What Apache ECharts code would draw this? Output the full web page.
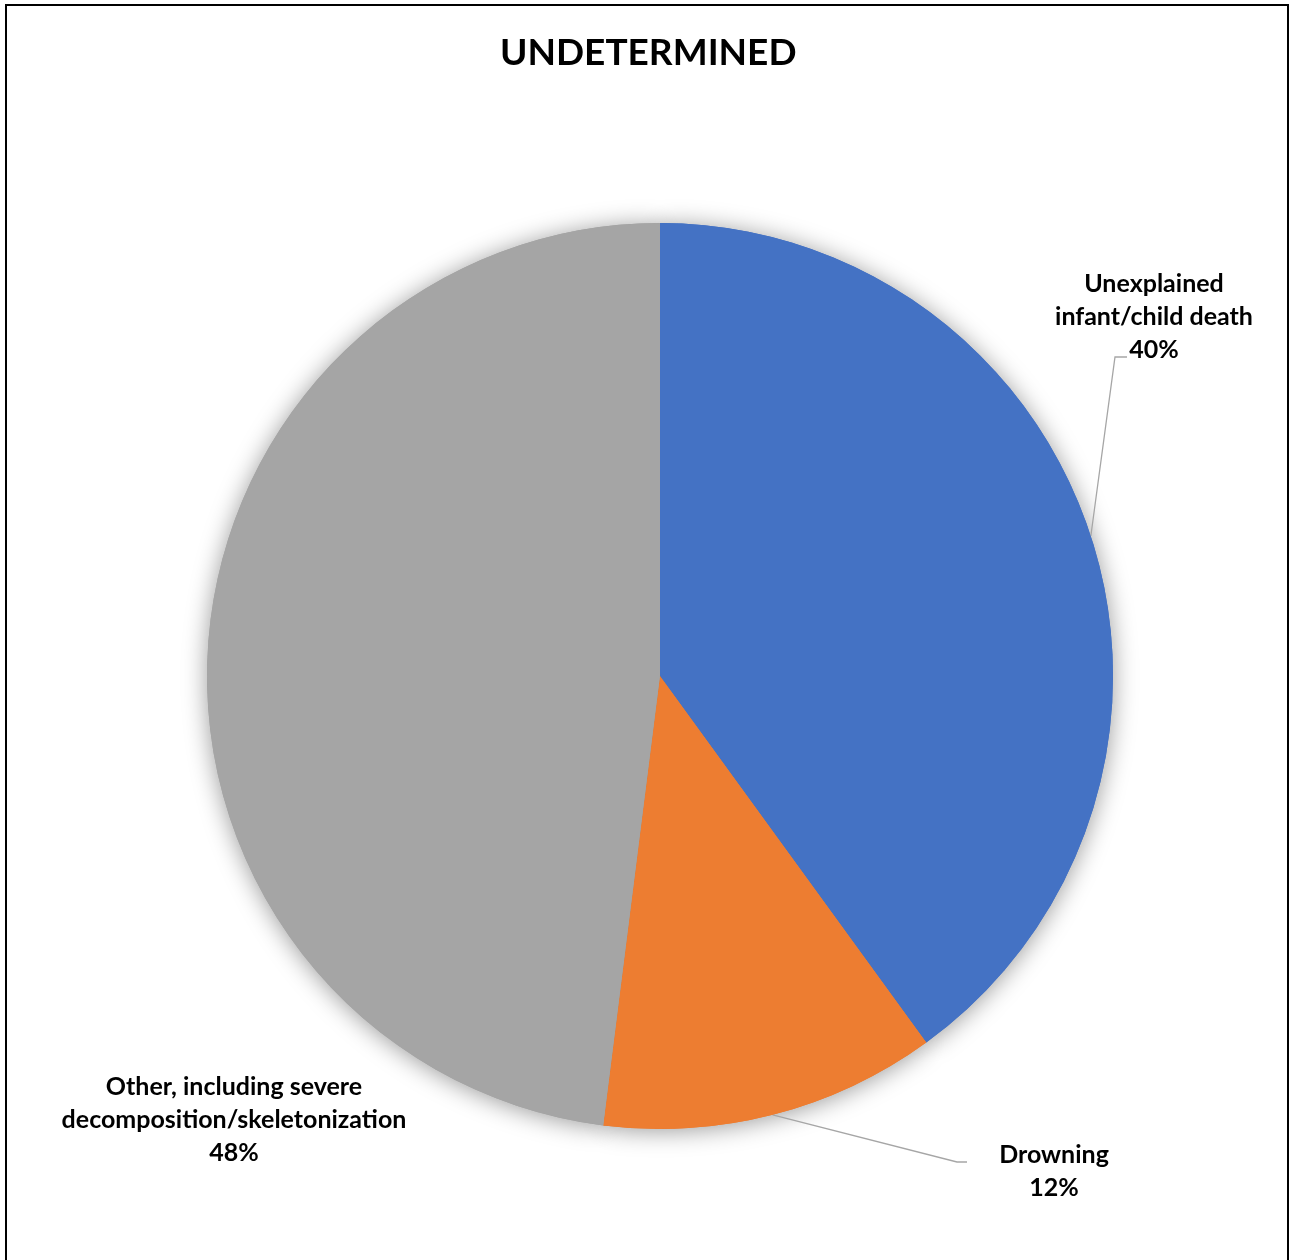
<!DOCTYPE html>
<html><head><meta charset="utf-8">
<script src="https://cdn.jsdelivr.net/npm/echarts@6/dist/echarts.min.js"></script>
<style>
html,body{margin:0;padding:0;background:#fff;overflow:hidden;width:1291px;height:1260px}
#chart{position:absolute;left:0;top:0;width:1291px;height:1260px}
#frame{position:absolute;left:5px;top:4px;width:1280px;height:1300px;border:2px solid #000;pointer-events:none}
</style></head><body>
<div id="chart"></div><div id="frame"></div>
<script>
const chartTitle = 'UNDETERMINED';
const categories = ['Unexplained\ninfant/child death', 'Drowning', 'Other, including severe\ndecomposition/skeletonization'];
const values = [40, 12, 48];
const colors = ['#4472C4', '#ED7D31', '#A5A5A5'];
const showLeader = [true, true, false];

// label placement (centre x, top y) and leader elbow offsets relative to it
const labelPlace = [[1154, 267], [1054, 1138], [234, 1070]];
const elbow = [[-39, 90, -27], [-97, 24, -87], null];

const FONT = 'Lato';
const chart = echarts.init(document.getElementById('chart'), null, {renderer: 'canvas'});

const data = categories.map((c, i) => ({
  name: c, value: values[i],
  itemStyle: {color: colors[i]},
  labelLine: {show: showLeader[i]}
}));

chart.setOption({
  animation: false,
  backgroundColor: 'transparent',
  title: {
    text: chartTitle, left: 495, top: 26,
    textStyle: {fontFamily: FONT, fontWeight: 'bold', fontSize: 37, color: '#000', lineHeight: 44}
  },
  series: [
    {
      type: 'pie', silent: true, center: [660, 676], radius: 453,
      startAngle: 90, clockwise: true, z: 1,
      itemStyle: {borderWidth: 0, shadowBlur: 24, shadowColor: 'rgba(0,0,0,0.4)', shadowOffsetX: 0, shadowOffsetY: 2},
      label: {show: false}, labelLine: {show: false},
      data: categories.map((c, i) => ({name: c, value: values[i], itemStyle: {color: colors[i]}}))
    },
    {
      type: 'pie', center: [660, 676], radius: 453,
      startAngle: 90, clockwise: true, z: 2,
      itemStyle: {borderWidth: 0},
      emphasis: {disabled: true},
      label: {
        show: true, position: 'outside', overflow: 'none', width: 600,
        formatter: p => p.name + '\n' + p.value + '%',
        fontFamily: FONT, fontWeight: 'bold', fontSize: 25, lineHeight: 33,
        color: '#000', align: 'center'
      },
      labelLine: {show: true, length: 20, length2: 10, smooth: false,
        lineStyle: {color: '#A6A6A6', width: 1.3}},
      labelLayout: function (p) {
        const i = p.dataIndex;
        const pos = labelPlace[i];
        const out = {x: pos[0], y: pos[1], align: 'center', verticalAlign: 'top'};
        if (elbow[i] && p.labelLinePoints) {
          const s = p.labelLinePoints[0];
          out.labelLinePoints = [
            [s[0], s[1]],
            [pos[0] + elbow[i][0], pos[1] + elbow[i][1]],
            [pos[0] + elbow[i][2], pos[1] + elbow[i][1]]
          ];
        }
        return out;
      },
      data: data
    }
  ]
});
</script>
</body></html>
